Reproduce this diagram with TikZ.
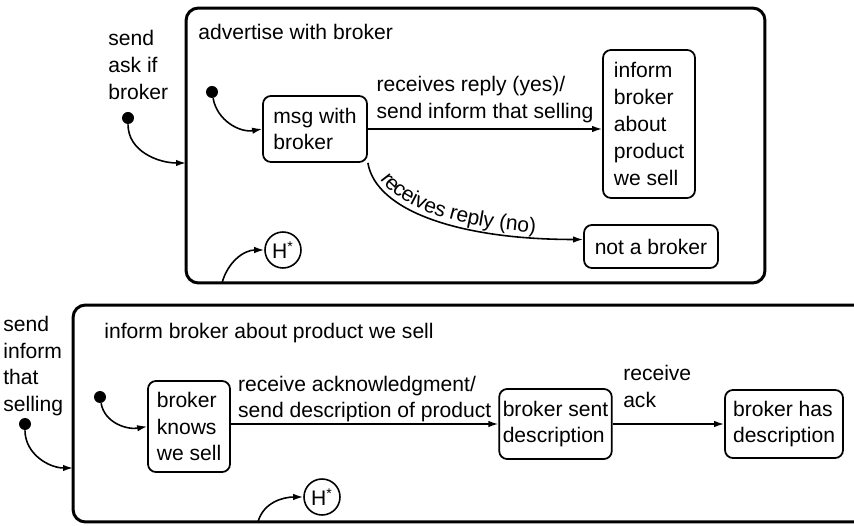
\documentclass[tikz,border=0pt]{standalone}
\usepackage{fontspec}
\setmainfont{Liberation Sans}
\usetikzlibrary{arrows.meta,decorations.text}

\tikzset{
  state/.style={draw, line width=1pt, rounded corners=4.5pt, align=left, inner sep=2pt},
  super/.style={draw, line width=1.7pt, rounded corners=7pt, inner sep=0pt},
  init/.style={circle, fill, inner sep=0pt, minimum size=0.24cm},
  hist/.style={draw, circle, line width=0.9pt, inner sep=0pt, minimum size=0.72cm},
  trans/.style={line width=0.9pt, -{Latex[length=2mm,width=1.3mm]}},
  lbl/.style={align=left, inner sep=0pt}
}

\begin{document}
\fontsize{12}{15.3}\selectfont
\begin{tikzpicture}[x=0.02cm, y=-0.02cm]
  \clip (0,0) rectangle (854,526);

  % advertise with broker
  \node [super, minimum width=11.58cm, minimum height=5.5cm] (adv) at (475.5,145.5) {};
  \node [lbl, anchor=west] (advt) at (198,32) {advertise with broker};
  \node [lbl, anchor=west] (advl) at (108,65) {send\\ask if\\broker};
  \node [init] (s1) at (128,118) {};
  \coordinate (advin) at (186,163);
  \coordinate (advh) at (222,283);

  \node [init] (i1) at (212,92) {};
  \node [state, minimum width=2.08cm, minimum height=1.32cm] (m) at (315,129) {msg with\\broker};
  \node [state, minimum width=1.84cm, minimum height=2.96cm] (inf) at (649,124) {inform\\broker\\about\\product\\we sell};
  \node [state, minimum width=2.68cm, minimum height=0.86cm] (nb) at (651,246.5) {not a broker};
  \node [hist] (h1) at (283,250) {H\textsuperscript{*}};

  \draw [trans] (s1) to[out=-90,in=180] (advin);
  \draw [trans] (i1) to[out=-80,in=190] (m.west);
  \draw [trans] (m.east) -- node[lbl, above=3pt] {receives reply (yes)/\\send inform that selling} (m.east -| inf.west);
  \draw [trans] (m.south east) .. controls +(8,48) and +(-124,0) .. ([yshift=0.14cm]nb.west);
  \path [decorate, decoration={text along path, text={receives reply (no)}, raise=3pt, text align={left indent=12pt}}]
    (m.south east) .. controls +(8,48) and +(-124,0) .. ([yshift=0.14cm]nb.west);
  \draw [trans] (advh) to[out=75,in=180] (h1);

  % inform broker about product we sell
  \node [super, minimum width=15.94cm, minimum height=4.34cm] (ibr) at (471.5,413.5) {};
  \node [lbl, anchor=west] (ibrt) at (104,333) {inform broker about product we sell};
  \node [lbl, anchor=west] (ibrl) at (3,366) {send\\inform\\that\\selling};
  \node [init] (s2) at (25,424) {};
  \coordinate (ibrin) at (73,468);
  \coordinate (ibrh) at (258,522);

  \node [init] (i2) at (100,397) {};
  \node [state, minimum width=1.64cm, minimum height=1.82cm] (k) at (189,426.5) {broker\\knows\\we sell};
  \node [state, minimum width=2.22cm, minimum height=1.4cm] (sn) at (555.5,424) {broker sent\\description};
  \node [state, minimum width=2.36cm, minimum height=1.36cm] (hd) at (784,424) {broker has\\description};
  \node [hist] (h2) at (322,497) {H\textsuperscript{*}};

  \draw [trans] (s2) to[out=-90,in=180] (ibrin);
  \draw [trans] (i2) to[out=-80,in=190] (k.west);
  \draw [trans] (k.east |- sn) -- node[lbl, above=0.5pt] {receive acknowledgment/\\send description of product} (sn.west);
  \draw [trans] (sn) -- node[lbl, above=9pt, pos=0.4] {receive\\ack} (hd);
  \draw [trans] (ibrh) to[out=75,in=180] (h2);
\end{tikzpicture}
\end{document}
